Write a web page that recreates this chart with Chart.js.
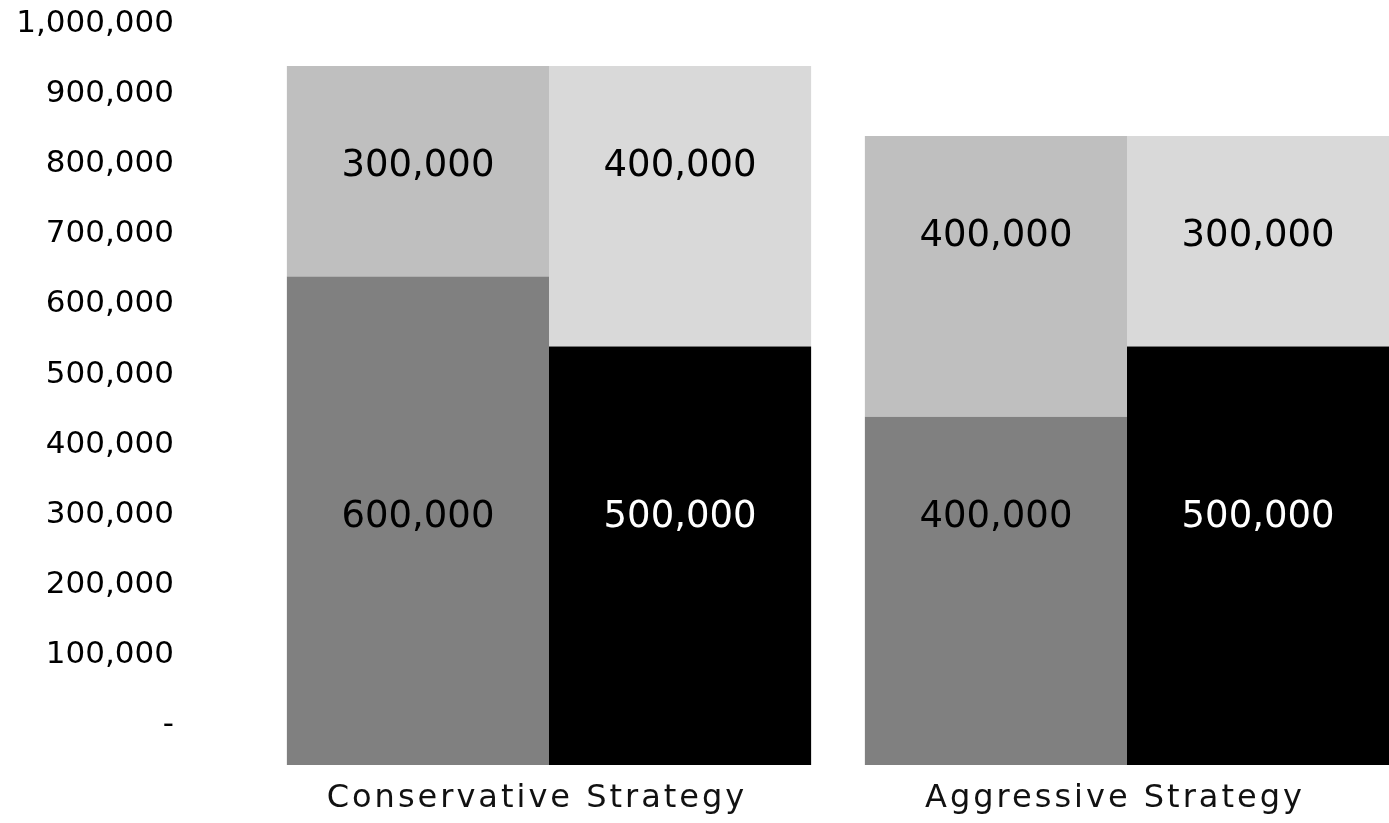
<!DOCTYPE html>
<html>
<head>
<meta charset="utf-8">
<title>Conservative vs Aggressive Strategy</title>
<script src="https://cdn.jsdelivr.net/npm/chart.js@4/dist/chart.umd.min.js"></script>
<style>
  html, body { margin: 0; padding: 0; background: #ffffff; overflow: hidden; }
  #wrap { position: relative; width: 1416px; height: 823px; }
</style>
</head>
<body>
<div id="wrap"><canvas id="chart"></canvas></div>
<script>
// ---- data ----
const categories = ['Conservative Strategy', 'Aggressive Strategy'];
const leftBottom  = [600000, 400000];
const leftTop     = [300000, 400000];
const rightBottom = [500000, 500000];
const rightTop    = [400000, 300000];
const yTickValues = [0, 100000, 200000, 300000, 400000, 500000, 600000, 700000, 800000, 900000, 1000000];

// ---- axis range ----
const Y_MIN = -96500;
const Y_MAX = 994000;

const FONT = 'DejaVu Sans';
const fmt = v => Number(v).toLocaleString('en-US');

// letter spacing for the category axis labels (drawn before the datasets)
const spacingPlugin = {
  id: 'spacing',
  beforeDraw(chart) { chart.ctx.letterSpacing = '3px'; },
  beforeDatasetsDraw(chart) { chart.ctx.letterSpacing = '0px'; }
};

// value labels in rows
const rowLabelPlugin = {
  id: 'rowLabels',
  afterDatasetsDraw(chart, args, opts) {
    const ctx = chart.ctx;
    const yScale = chart.scales.y;
    ctx.save();
    ctx.letterSpacing = '0px';
    ctx.font = opts.size + 'px "' + FONT + '"';
    ctx.textAlign = 'center';
    ctx.textBaseline = 'middle';
    const topSets = [];
    chart.data.datasets.forEach((ds, i) => { if (ds.row === 'top') topSets.push(i); });
    chart.data.labels.forEach((_, j) => {
      const topEls = topSets.map(i => chart.getDatasetMeta(i).data[j]);
      const rowTop = Math.max(...topEls.map(e => Math.min(e.y, e.base)));
      const rowBottom = Math.min(...topEls.map(e => Math.max(e.y, e.base)));
      const topY = (rowTop + rowBottom) / 2 + opts.nudge;
      const bottomY = yScale.getPixelForValue(opts.bottomRowValue) + opts.nudge;
      chart.data.datasets.forEach((ds, i) => {
        const el = chart.getDatasetMeta(i).data[j];
        ctx.fillStyle = ds.labelColor;
        ctx.fillText(fmt(ds.data[j]), el.x, ds.row === 'top' ? topY : bottomY);
      });
    });
    ctx.restore();
  }
};

new Chart(document.getElementById('chart'), {
  type: 'bar',
  data: {
    labels: categories,
    datasets: [
      { label: 'Left – lower', data: leftBottom, stack: 'left', row: 'bottom', base: Y_MIN,
        backgroundColor: '#808080', labelColor: '#000000' },
      { label: 'Left – upper', data: leftTop, stack: 'left', row: 'top',
        backgroundColor: '#bfbfbf', labelColor: '#000000' },
      { label: 'Right – lower', data: rightBottom, stack: 'right', row: 'bottom', base: Y_MIN,
        backgroundColor: '#000000', labelColor: '#ffffff' },
      { label: 'Right – upper', data: rightTop, stack: 'right', row: 'top',
        backgroundColor: '#d9d9d9', labelColor: '#000000' }
    ]
  },
  options: {
    responsive: true,
    maintainAspectRatio: false,
    animation: false,
    events: [],
    layout: { padding: 0, autoPadding: false },
    datasets: { bar: { barPercentage: 1, categoryPercentage: 0.907, borderWidth: 0 } },
    plugins: {
      legend: { display: false },
      tooltip: { enabled: false },
      rowLabels: { size: 37, nudge: -5, bottomRowValue: 250000 }
    },
    scales: {
      x: {
        stacked: true,
        grid: { display: false, drawTicks: false },
        border: { display: false },
        ticks: {
          color: '#111111',
          font: { family: FONT, size: 32 },
          padding: 14,
          labelOffset: -12,
          maxRotation: 0,
          autoSkip: false
        },
        afterFit(scale) { scale.height = 58; scale.paddingLeft = 0; scale.paddingRight = 0; }
      },
      y: {
        stacked: true,
        min: Y_MIN,
        max: Y_MAX,
        grid: { display: false, drawTicks: false },
        border: { display: false },
        afterBuildTicks(scale) { scale.ticks = yTickValues.map(v => ({ value: v })); },
        ticks: {
          z: 1,
          color: '#000000',
          font: { family: FONT, size: 31 },
          padding: 86,
          labelOffset: 28,
          callback: v => (v === 0 ? '-' : fmt(v))
        },
        afterFit(scale) { scale.width = 260; scale.paddingTop = 0; scale.paddingBottom = 0; }
      }
    }
  },
  plugins: [spacingPlugin, rowLabelPlugin]
});
</script>
</body>
</html>
